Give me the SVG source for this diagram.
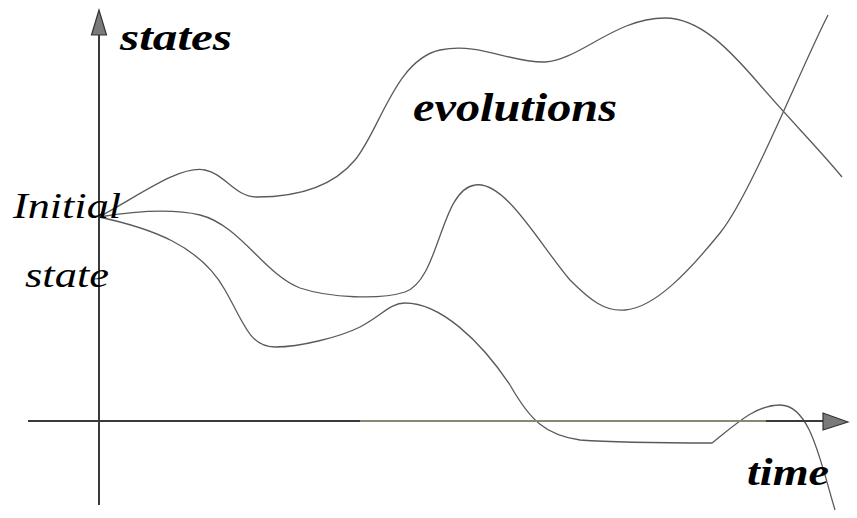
<svg xmlns="http://www.w3.org/2000/svg" width="857" height="518" viewBox="0 0 857 518">
<style>
.curve{fill:none;stroke:#5a5a5a;stroke-width:1.3}
.axis{stroke:#3a3a3a;stroke-width:2;fill:none}
.head{fill:#7a7a7a;stroke:#333;stroke-width:1.2}
.lbl{font-style:italic;fill:#000}
.b{font-weight:bold}
</style>
<rect width="857" height="518" fill="#fff"/>
<g id="connectors">
<path class="curve" d="M99,217 C140,195 180,165 205,170 C225,174 235,197 257,197 C290,197 330,190 355,160 C380,130 395,60 440,50 C480,42 510,63 545,62 C580,60 615,18 665,18 C700,18 730,50 760,85 C790,120 820,150 842,177"/>
<path class="curve" d="M99,217 C130,212 170,208 200,215 C240,225 265,275 300,288 C330,298 380,300 405,292 C440,280 440,190 475,185 C505,180 540,245 570,280 C590,300 605,312 625,310 C655,308 690,270 720,233 C750,196 800,70 828,15"/>
<path class="curve" d="M99,217 C150,228 200,245 225,290 C245,325 250,347 275,347 C300,347 340,337 360,327 C380,317 390,303 405,303 C440,303 480,340 510,385 C530,420 545,435 580,440 C620,443 680,443 712,443 C735,425 755,405 780,405 C810,405 820,460 835,510"/>
</g>
<g id="vaxis">
<line class="axis" x1="99" y1="505" x2="99" y2="35"/>
<polygon class="head" points="99,10 91.5,35 106.5,35"/>
</g>
<g id="haxis">
<line x1="28" y1="421" x2="360" y2="421" stroke="#3a3a3a" stroke-width="2"/>
<line x1="360" y1="421" x2="766" y2="421" stroke="#8a8874" stroke-width="2"/>
<line x1="766" y1="421" x2="823" y2="421" stroke="#3a3a3a" stroke-width="2"/>
<polygon class="head" points="848,422 823,413 823,430"/>
</g>
<g id="labels" font-family="Liberation Serif, DejaVu Serif, serif">
<text class="lbl b" x="120" y="50" font-size="38" textLength="112" lengthAdjust="spacingAndGlyphs">states</text>
<text class="lbl b" x="413" y="121" font-size="40" textLength="204" lengthAdjust="spacingAndGlyphs">evolutions</text>
<text class="lbl" x="13" y="218" font-size="36" textLength="108" lengthAdjust="spacingAndGlyphs">Initial</text>
<text class="lbl" x="25" y="287" font-size="36" textLength="84" lengthAdjust="spacingAndGlyphs">state</text>
<text class="lbl b" x="747" y="485" font-size="38" textLength="82" lengthAdjust="spacingAndGlyphs">time</text>
</g>
</svg>
